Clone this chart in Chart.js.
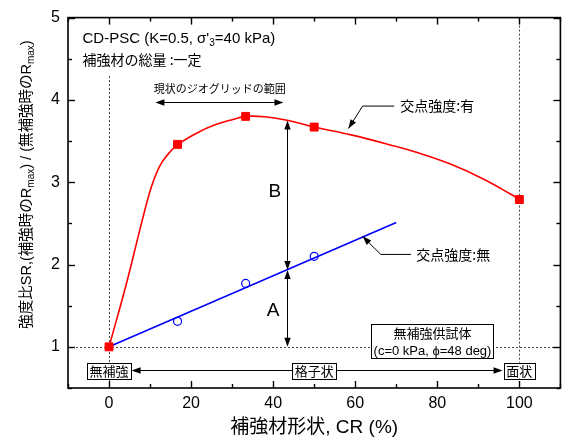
<!DOCTYPE html>
<html><head><meta charset="utf-8">
<script src="https://cdn.jsdelivr.net/npm/chart.js@4/dist/chart.umd.min.js"></script>
<style>html,body{margin:0;padding:0;background:#fff;} #wrap{width:567px;height:439px;position:relative;}</style>
</head><body><div id="wrap"><canvas id="c"></canvas></div>
<script>
// ---- data ----
const crMeasured = [0, 16.7, 33.3, 50, 100];
const srWithNode = [1.00, 3.46, 3.80, 3.67, 2.79];
const crNoNode = [16.7, 33.3, 50];
const srNoNode = [1.31, 1.77, 2.10];
const fitWithCR = [0, 4.2, 7.4, 9.8, 11.0, 12.0, 13.0, 14.7, 16.8, 21.9, 26.0, 30.0, 33.2, 38.0, 43.7, 50, 59, 69.5, 75.1, 83.2, 91.2, 97.7, 100];
const fitWithSR = [1.00, 1.76, 2.40, 2.86, 3.04, 3.16, 3.25, 3.36, 3.46, 3.61, 3.70, 3.76, 3.80, 3.795, 3.75, 3.67, 3.575, 3.44, 3.36, 3.22, 3.04, 2.86, 2.79];
const fitNoCR = [0, 70];
const fitNoSR = [1.00, 2.51];
const xTickLabels = [0, 20, 40, 60, 80, 100];
const yTickLabels = [1, 2, 3, 4, 5];

const LAT = "'Liberation Sans', Arial, sans-serif";
const MIX = "'Liberation Sans', 'Noto Sans CJK JP', sans-serif";
const JP = "'Noto Sans CJK JP', sans-serif";

function pts(xs, ys){ return xs.map((v,i)=>({x:v, y:ys[i]})); }

function arrowHead(ctx, x1, y1, x2, y2, len, half){
  const ang = Math.atan2(y2-y1, x2-x1);
  ctx.beginPath();
  ctx.moveTo(x2, y2);
  ctx.lineTo(x2 - len*Math.cos(ang) + half*Math.sin(ang), y2 - len*Math.sin(ang) - half*Math.cos(ang));
  ctx.lineTo(x2 - len*Math.cos(ang) - half*Math.sin(ang), y2 - len*Math.sin(ang) + half*Math.cos(ang));
  ctx.closePath(); ctx.fill();
}
function seg(ctx, x1,y1,x2,y2){ ctx.beginPath(); ctx.moveTo(x1,y1); ctx.lineTo(x2,y2); ctx.stroke(); }
function boxText(ctx, cx, cy, text, font, padX, h){
  ctx.font = font;
  const w = ctx.measureText(text).width + 2*padX;
  ctx.fillStyle = '#fff';
  ctx.fillRect(cx - w/2, cy - h/2, w, h);
  ctx.strokeStyle = '#000'; ctx.lineWidth = 1;
  ctx.strokeRect(Math.round(cx - w/2)+0.5, Math.round(cy - h/2)+0.5, Math.round(w), Math.round(h));
  ctx.fillStyle = '#000'; ctx.textAlign = 'center'; ctx.textBaseline = 'middle';
  ctx.fillText(text, cx, cy+0.5);
}
function richText(ctx, parts, x, y){
  let cx = x;
  ctx.textAlign = 'left'; ctx.textBaseline = 'middle';
  for (const [t, f, dy] of parts){ ctx.font = f; ctx.fillText(t, cx, y+dy); cx += ctx.measureText(t).width; }
}
function richWidth(ctx, parts){
  let w = 0; for (const [t, f] of parts){ ctx.font = f; w += ctx.measureText(t).width; } return w;
}

const deco = {
  id: 'deco',
  beforeDatasetsDraw(chart){
    const {ctx, chartArea: a, scales: {x, y}} = chart;
    const X = v => x.getPixelForValue(v), Y = v => y.getPixelForValue(v);
    ctx.save();
    ctx.beginPath(); ctx.rect(a.left, a.top, a.right-a.left, a.bottom-a.top); ctx.clip();
    ctx.strokeStyle = '#444'; ctx.lineWidth = 1; ctx.setLineDash([2,2]);
    const y1 = Math.round(Y(1))+0.5;
    seg(ctx, a.left, y1, a.right, y1);
    const x0 = Math.round(X(0))+0.5, x100 = Math.round(X(100))+0.5;
    seg(ctx, x0, Y(4.29), x0, a.bottom);
    seg(ctx, x100, a.top, x100, a.bottom);
    ctx.restore();
  },
  afterDatasetsDraw(chart){
    const {ctx, chartArea: a, scales: {x, y}} = chart;
    const X = v => x.getPixelForValue(v), Y = v => y.getPixelForValue(v);
    ctx.save();
    ctx.fillStyle = '#000'; ctx.strokeStyle = '#000'; ctx.lineWidth = 1;

    // top-left notes
    richText(ctx, [["CD-PSC (K=0.5, σ'", "15px "+LAT, 0], ["3", "10px "+LAT, 4], ["=40 kPa)", "15px "+LAT, 0]], 82.5, 39);
    ctx.font = "14px "+JP; ctx.textAlign='left'; ctx.textBaseline='middle';
    ctx.fillText("補強材の総量 :一定", 82.5, 59.5);

    // current geogrid range
    ctx.font = "11px "+JP; ctx.textAlign='center';
    ctx.fillText("現状のジオグリッドの範囲", X(27.0), Y(4.14));
    const ya = Math.round(Y(3.97))+0.5;
    seg(ctx, X(11.3)+6, ya, X(42.5)-6, ya);
    arrowHead(ctx, X(42.5), ya, X(11.3), ya, 9, 3.2);
    arrowHead(ctx, X(11.3), ya, X(42.5), ya, 9, 3.2);

    // leader: 交点強度:有
    ctx.beginPath(); ctx.moveTo(X(69.5), Y(3.925)); ctx.lineTo(X(61.8), Y(3.925)); ctx.lineTo(X(58.35), Y(3.653)); ctx.stroke();
    arrowHead(ctx, X(61.8), Y(3.925), X(58.35), Y(3.653), 9, 3.2);
    ctx.font = "14px "+JP; ctx.textAlign='left'; ctx.textBaseline='middle';
    ctx.fillText("交点強度:有", X(71.0), Y(3.925));

    // leader: 交点強度:無
    ctx.beginPath(); ctx.moveTo(X(73.6), Y(2.123)); ctx.lineTo(X(66.2), Y(2.123)); ctx.lineTo(X(61.8), Y(2.343)); ctx.stroke();
    arrowHead(ctx, X(66.2), Y(2.123), X(61.8), Y(2.343), 9, 3.2);
    ctx.fillText("交点強度:無", X(74.9), Y(2.123));

    // B and A arrows
    const xb = Math.round(X(43.3))+0.5;
    seg(ctx, xb, Y(3.75)+6, xb, Y(1.935)-6);
    arrowHead(ctx, xb, Y(1.935), xb, Y(3.75), 9, 3.2);
    arrowHead(ctx, xb, Y(3.75), xb, Y(1.935), 9, 3.2);
    seg(ctx, xb, Y(1.935)+6, xb, Y(1.0)-6);
    arrowHead(ctx, xb, Y(1.0), xb, Y(1.935), 9, 3.2);
    arrowHead(ctx, xb, Y(1.935), xb, Y(1.0), 9, 3.2);
    ctx.font = "19px "+LAT; ctx.textAlign='center'; ctx.textBaseline='middle';
    ctx.fillText("B", X(40.4), Y(2.88));
    ctx.fillText("A", X(40.0), Y(1.44));

    // unreinforced specimen box
    ctx.fillStyle = '#fff';
    const bx1 = 371.5, bx2 = 493.5, by1 = 324.5, by2 = 358.5;
    ctx.fillRect(bx1, by1, bx2-bx1, by2-by1);
    ctx.strokeRect(bx1, by1, bx2-bx1, by2-by1);
    ctx.fillStyle = '#000'; ctx.textAlign='center';
    ctx.font = "13px "+JP; ctx.fillText("無補強供試体", (bx1+bx2)/2, 333.5);
    ctx.font = "13px "+LAT; ctx.fillText("(c=0 kPa, ϕ=48 deg)", (bx1+bx2)/2, 351);

    // bottom row: reinforcement shape range
    const yr = Math.round(Y(0.72))+0.5;
    seg(ctx, X(5.5)+6, yr, X(95.9)-6, yr);
    arrowHead(ctx, X(95.9), yr, X(5.5), yr, 9, 3.2);
    arrowHead(ctx, X(5.5), yr, X(95.9), yr, 9, 3.2);
    boxText(ctx, X(0), yr, "無補強", "13px "+JP, 2.5, 16);
    boxText(ctx, X(50), yr, "格子状", "13px "+JP, 2.5, 16);
    boxText(ctx, X(100), yr, "面状", "13px "+JP, 2.5, 16);

    // frame
    ctx.strokeStyle = '#000'; ctx.lineWidth = 1.6;
    ctx.strokeRect(a.left, a.top, a.right-a.left, a.bottom-a.top);
    // inward ticks on all four sides
    ctx.lineWidth = 1.4;
    x.ticks.forEach(t => {
      const px = Math.round(X(t.value))+0.5;
      const L = (t.value % 20 === 0) ? 7 : 4;
      seg(ctx, px, a.bottom, px, a.bottom-L);
      seg(ctx, px, a.top, px, a.top+L);
    });
    y.ticks.forEach(t => {
      const py = Math.round(Y(t.value))+0.5;
      const L = Number.isInteger(t.value) ? 7 : 4;
      seg(ctx, a.left, py, a.left+L, py);
      seg(ctx, a.right, py, a.right-L, py);
    });

    // axis titles
    ctx.fillStyle = '#000';
    ctx.font = "19px "+MIX; ctx.textAlign='center'; ctx.textBaseline='middle';
    ctx.fillText("補強材形状, CR (%)", (a.left+a.right)/2, 428);

    const main = "14.5px "+MIX, sub = "10px "+LAT;
    const parts = [["強度比SR,(補強時のR", main, 0], ["max", sub, 4], [") / (無補強時のR", main, 0], ["max", sub, 4], [")", main, 0]];
    const tw = richWidth(ctx, parts);
    ctx.translate(27, 184.5);
    ctx.rotate(-Math.PI/2);
    richText(ctx, parts, -tw/2, 0);
    ctx.restore();
  }
};

new Chart(document.getElementById('c'), {
  type: 'line',
  data: {
    datasets: [
      { label: 'measured with node strength', data: pts(crMeasured, srWithNode), showLine: false,
        pointStyle: 'rect', pointRadius: 5.6, backgroundColor: '#ff0000', borderColor: '#ff0000', borderWidth: 1 },
      { label: 'measured without node strength', data: pts(crNoNode, srNoNode), showLine: false,
        pointStyle: 'circle', pointRadius: 4, backgroundColor: 'rgba(0,0,0,0)', borderColor: '#0000ff', borderWidth: 1.2 },
      { label: 'fit with', data: pts(fitWithCR, fitWithSR), borderColor: '#ff0000', borderWidth: 1.6,
        pointRadius: 0, tension: 0.4, fill: false },
      { label: 'fit without', data: pts(fitNoCR, fitNoSR), borderColor: '#0000ff', borderWidth: 1.6,
        pointRadius: 0, tension: 0, fill: false }
    ]
  },
  options: {
    responsive: true, maintainAspectRatio: false, animation: false, events: [],
    layout: { padding: { top: 14, right: 2, left: 0, bottom: 0 } },
    plugins: { legend: { display: false }, tooltip: { enabled: false } },
    scales: {
      x: {
        type: 'linear', min: -10, max: 110,
        grid: { display: false, drawTicks: false }, border: { display: false },
        ticks: { stepSize: 10, autoSkip: false, maxRotation: 0, padding: 6, color: '#000',
          font: { family: LAT, size: 16 },
          callback: v => xTickLabels.includes(v) ? String(v) : '' },
        afterFit: s => { s.height = 51; }
      },
      y: {
        type: 'linear', min: 0.5, max: 5,
        grid: { display: false, drawTicks: false }, border: { display: false },
        ticks: { stepSize: 0.5, autoSkip: false, padding: 8, color: '#000',
          font: { family: LAT, size: 16 },
          callback: v => yTickLabels.includes(v) ? String(v) : '' },
        afterFit: s => { s.width = 68; }
      }
    }
  },
  plugins: [deco]
});
</script>
</body></html>
